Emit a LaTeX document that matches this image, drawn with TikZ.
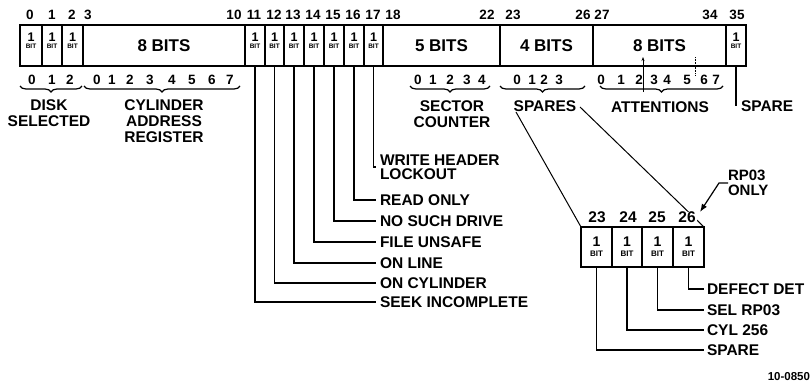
\documentclass[tikz,border=0pt]{standalone}
\usepackage{fontspec}
\setmainfont{Liberation Sans}
\usetikzlibrary{decorations.pathreplacing,arrows.meta,calc}
\begin{document}
\begin{tikzpicture}[x=1pt,y=-1pt,
 every node/.style={inner sep=0pt, outer sep=0pt, font=\bfseries},
 cell/.style={draw, line width=1.1pt, anchor=north west, minimum height=41pt, font=\bfseries\fontsize{17}{17}\selectfont},
 scell/.style={draw, line width=1.1pt, anchor=north west, minimum height=40pt},
 boxline/.style={line width=2.6pt},
 lab/.style={font=\bfseries\fontsize{15.5}{16}\selectfont},
 num/.style={font=\bfseries\fontsize{13.5}{14}\selectfont},
 snum/.style={font=\bfseries\fontsize{15.5}{16}\selectfont},
 obit/.style={align=center, font=\bfseries\fontsize{12.5}{6.8}\selectfont},
 sbit/.style={align=center, font=\bfseries\fontsize{14}{10}\selectfont},
 tag/.style={lab, anchor=west, inner xsep=4pt},
 wire/.style={line width=1.2pt},
 brc/.style={decorate, decoration={brace, mirror, amplitude=6pt}, line width=1.2pt},
]
\useasboundingbox (0,0) rectangle (812,383);

% ---- main register cells
\node[cell, minimum width=22pt] (c0) at (20,25) {};
\node[cell, minimum width=20pt] (c1) at (42,25) {};
\node[cell, minimum width=21pt] (c2) at (62,25) {};
\node[cell, minimum width=162pt] (c3) at (83,25) {8 BITS};
\node[cell, minimum width=20pt] (c11) at (245,25) {};
\node[cell, minimum width=19pt] (c12) at (265,25) {};
\node[cell, minimum width=20pt] (c13) at (284,25) {};
\node[cell, minimum width=20pt] (c14) at (304,25) {};
\node[cell, minimum width=20pt] (c15) at (324,25) {};
\node[cell, minimum width=20pt] (c16) at (344,25) {};
\node[cell, minimum width=19pt] (c17) at (364,25) {};
\node[cell, minimum width=117pt] (c18) at (383,25) {5 BITS};
\node[cell, minimum width=93pt] (c23) at (500,25) {4 BITS};
\node[cell, minimum width=133pt] (c27) at (593,25) {8 BITS};
\node[cell, minimum width=20pt] (c35) at (726,25) {};
\draw[boxline] (c0.north west) rectangle (c35.south east);

\foreach \c in {c0,c1,c2,c11,c12,c13,c14,c15,c16,c17,c35}
  \node[obit] (t\c) at ($(\c.center)+(0,-5)$) {1\\{\fontsize{6.5}{7}\selectfont BIT}};

% ---- bit numbers above
\foreach \n/\x in {0/30,1/52,2/72,3/88,10/234,11/254,12/274,13/293,14/313,15/333,16/353,17/373,18/393,22/487,23/513,26/583,27/602,34/710,35/737}
  \node[num] (b\n) at (\x,15) {\n};

% ---- field digits below
\foreach \n/\x in {0/32,1/52,2/70}
  \node[num] (dd\n) at (\x,80) {\n};
\foreach \n/\x in {0/97,1/112,2/130,3/150,4/172,5/192,6/212,7/230}
  \node[num] (dc\n) at (\x,80) {\n};
\foreach \n/\x in {0/418,1/433,2/450,3/467,4/482}
  \node[num] (ds\n) at (\x,80) {\n};
\foreach \n/\x in {0/517,1/532,2/544,3/559}
  \node[num] (dp\n) at (\x,80) {\n};
\foreach \n/\x in {0/601,1/621,2/639,3/654,4/667,5/687,6/704,7/716}
  \node[num] (da\n) at (\x,80) {\n};

% ---- braces
\draw[brc] (20,86) -- (82,86);
\draw[brc] (84,86) -- (240,86);
\draw[brc] (410,86) -- (490,86);
\draw[brc] (500,86) -- (585,86);
\draw[brc] (600,86) -- (723,86);

% ---- field names
\node[lab, align=center, anchor=north] (fdisk) at (49,100) {DISK\\SELECTED};
\node[lab, align=center, anchor=north] (fcyl) at (164,100) {CYLINDER\\ADDRESS\\REGISTER};
\node[lab, align=center, anchor=north] (fsec) at (452,101) {SECTOR\\COUNTER};
\node[lab] (fspa) at (545,106) {SPARES};
\node[lab] (fatt) at (660,107) {ATTENTIONS};

% marks in attention field
\draw[line width=0.6pt, -{Stealth[length=4pt,width=3pt]}] (643,92) -- (643,57);
\draw[line width=0.6pt, densely dotted] (695,57) -- (695,76);

% ---- bit 35 spare
\node[tag, inner xsep=5pt] (sp35) at (736,106) {SPARE};
\draw[wire] (c35.south) |- (sp35.west);

% ---- status bits
\node[tag, align=left, font=\bfseries\fontsize{15.5}{14.5}\selectfont] (s17) at (376,167) {WRITE HEADER\\LOCKOUT};
\node[tag] (s16) at (376,200) {READ ONLY};
\node[tag] (s15) at (376,221) {NO SUCH DRIVE};
\node[tag] (s14) at (376,242) {FILE UNSAFE};
\node[tag] (s13) at (376,263) {ON LINE};
\node[tag] (s12) at (376,283) {ON CYLINDER};
\node[tag] (s11) at (376,302) {SEEK INCOMPLETE};
\foreach \i in {11,...,17}
  \draw[wire] (c\i.south) |- (s\i.west);

% ---- expanded spares
\node[scell, minimum width=31pt] (n23) at (581,227) {};
\node[scell, minimum width=30pt] (n24) at (612,227) {};
\node[scell, minimum width=31pt] (n25) at (642,227) {};
\node[scell, minimum width=31pt] (n26) at (673,227) {};
\foreach \c in {n23,n24,n25,n26}
  \node[sbit] (t\c) at (\c.center) {1\\{\fontsize{8}{8}\selectfont BIT}};

\coordinate (spl) at (516,112);
\coordinate (spr) at (580,107);
\draw[wire, line width=1pt] (spl) -- (n23.north west);
\draw[wire, line width=1pt] (spr) -- (n26.north east);
\draw[boxline] (n23.north west) rectangle (n26.south east);

\foreach \n/\x in {23/597,24/628,25/657,26/687}
  \node[snum, fill=white, inner xsep=1pt] (m\n) at (\x,217) {\n};

\node[tag, inner xsep=3pt] (s26) at (704,289) {DEFECT DET};
\node[tag, inner xsep=3pt] (s25) at (704,310) {SEL RP03};
\node[tag, inner xsep=3pt] (s24) at (704,330) {CYL 256};
\node[tag, inner xsep=3pt] (s23) at (704,350) {SPARE};
\foreach \i in {23,...,26}
  \draw[wire] (n\i.south) |- (s\i.west);

% ---- RP03 only
\node[lab, align=left, anchor=west, font=\bfseries\fontsize{15}{14.5}\selectfont] (rp) at (728,183) {RP03\\ONLY};
\coordinate (rptip) at (700,212);
\draw[wire, -{Latex[length=8pt,width=6pt]}] (rp.west) -- ++(-9,0) -- (rptip);

\node[font=\bfseries\fontsize{11.5}{12}\selectfont, anchor=east] (fig) at (810,377) {10-0850};
\end{tikzpicture}
\end{document}
